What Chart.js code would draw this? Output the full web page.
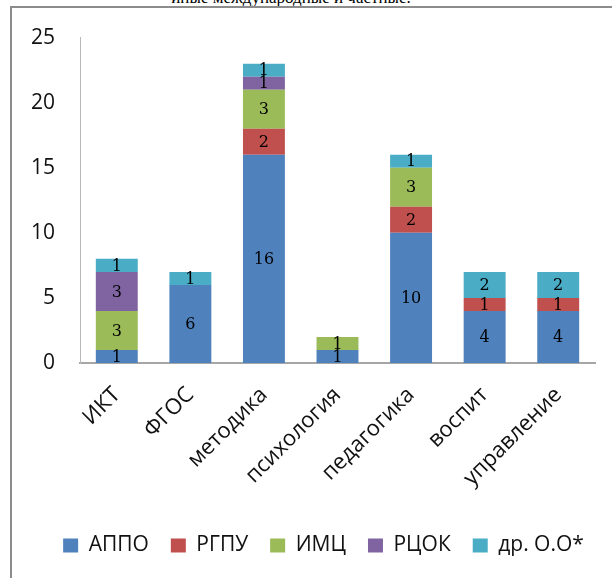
<!DOCTYPE html>
<html>
<head>
<meta charset="utf-8">
<script src="https://cdn.jsdelivr.net/npm/chart.js@4.4.0/dist/chart.umd.min.js"></script>
<style>
  html, body { margin: 0; padding: 0; background: #fff; overflow: hidden; }
  body { width: 612px; height: 578px; position: relative; }
  #caption {
    position: absolute; left: 0; top: -12px; width: 582px;
    text-align: center; white-space: nowrap;
    font: 17px "Liberation Serif", serif; color: #000;
  }
  #frame {
    position: absolute; left: 10px; top: 6px; width: 620px; height: 600px;
    border-top: 2px solid #8c8c8c; border-left: 2px solid #8c8c8c;
    background: #fff;
  }
  #wrap { position: absolute; left: 0; top: 0; width: 612px; height: 578px; }
</style>
</head>
<body>
<div id="caption">иные международные и частные.</div>
<div id="frame"></div>
<div id="wrap"><canvas id="chart" width="612" height="578"></canvas></div>
<script>
// Courses by topic, split by the organisation that ran them
const categories = ['ИКТ', 'ФГОС', 'методика', 'психология', 'педагогика', 'воспит', 'управление'];
const sources = ['АППО', 'РГПУ', 'ИМЦ', 'РЦОК', 'др. О.О*'];
const appo  = [1, 6, 16, 1, 10, 4, 4];
const rgpu  = [0, 0, 2, 0, 2, 1, 1];
const imc   = [3, 0, 3, 1, 3, 0, 0];
const rcok  = [3, 0, 1, 0, 0, 0, 0];
const other = [1, 1, 1, 0, 1, 2, 2];
const yTicks = [0, 5, 10, 15, 20, 25];

const palette = ['#4F81BD', '#C0504D', '#9BBB59', '#8064A2', '#4BACC6'];
const FONT = '"Open Sans", "Noto Sans", sans-serif';

// Writes each segment's value in the middle of the segment (zeros skipped)
const segmentLabels = {
  id: 'segmentLabels',
  afterDatasetsDraw(chart) {
    const ctx = chart.ctx;
    ctx.save();
    ctx.font = '16px "DejaVu Serif", serif';
    ctx.fillStyle = '#000';
    ctx.textAlign = 'center';
    ctx.textBaseline = 'middle';
    chart.data.datasets.forEach((ds, i) => {
      const meta = chart.getDatasetMeta(i);
      if (meta.hidden) return;
      meta.data.forEach((bar, j) => {
        const v = ds.data[j];
        if (!v) return;
        const p = bar.getProps(['x', 'y', 'base'], true);
        ctx.fillText(String(v), p.x, (p.y + p.base) / 2 + 1);
      });
    });
    ctx.restore();
  }
};

// Slides the legend row to the right so it sits centred under the plot
const LEGEND_SHIFT = 20;
const legendOffset = {
  id: 'legendOffset',
  afterLayout(chart) {
    const lg = chart.legend;
    if (lg) { lg.left += LEGEND_SHIFT; lg.right += LEGEND_SHIFT; }
  }
};

const seriesValues = [appo, rgpu, imc, rcok, other];

new Chart(document.getElementById('chart'), {
  type: 'bar',
  data: {
    labels: categories,
    datasets: sources.map((name, i) => ({
      label: name,
      data: seriesValues[i],
      backgroundColor: palette[i],
      borderWidth: 0,
      barPercentage: 0.57,
      categoryPercentage: 1
    }))
  },
  options: {
    responsive: false,
    animation: false,
    events: [],
    layout: { padding: { left: 12, right: 17, top: 37, bottom: 12 } },
    scales: {
      x: {
        stacked: true,
        grid: { display: false },
        border: { color: '#a6a6a6', width: 2 },
        ticks: {
          minRotation: 45, maxRotation: 45,
          padding: 11,
          color: '#111',
          font: { family: FONT, size: 22 }
        },
        afterFit(scale) { scale.height = 150; }
      },
      y: {
        stacked: true,
        min: 0, max: 25,
        afterBuildTicks(scale) { scale.ticks = yTicks.map(v => ({ value: v })); },
        grid: { display: false, drawTicks: false },
        border: { color: '#b8b8b8', width: 1 },
        ticks: {
          padding: 25,
          color: '#111',
          font: { family: FONT, size: 21 }
        },
        afterFit(scale) { scale.width = 68; }
      }
    },
    plugins: {
      legend: {
        position: 'bottom',
        labels: {
          boxWidth: 15, boxHeight: 14,
          padding: 22,
          color: '#111',
          font: { family: FONT, size: 21 }
        }
      },
      tooltip: { enabled: false }
    }
  },
  plugins: [segmentLabels, legendOffset]
});
</script>
</body>
</html>
